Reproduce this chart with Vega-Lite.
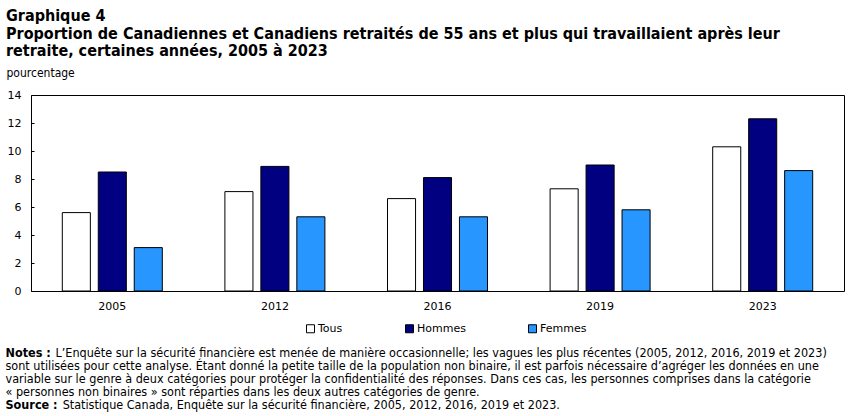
{
  "$schema": "https://vega.github.io/schema/vega-lite/v6.json",
  "padding": {"left": 5, "top": 7, "right": 0, "bottom": 0},
  "background": "white",
  "title": {
    "text": ["Notes :", "\u200b", "\u200b", "\u200b", "Source :"],
    "subtitle": [
      "\u200b\u00a0\u00a0\u00a0\u00a0\u00a0\u00a0\u00a0\u00a0\u00a0\u00a0\u00a0\u00a0\u00a0\u00a0L’Enquête sur la sécurité financière est menée de manière occasionnelle; les vagues les plus récentes (2005, 2012, 2016, 2019 et 2023)",
      "sont utilisées pour cette analyse. Étant donné la petite taille de la population non binaire, il est parfois nécessaire d’agréger les données en une",
      "variable sur le genre à deux catégories pour protéger la confidentialité des réponses. Dans ces cas, les personnes comprises dans la catégorie",
      "« personnes non binaires » sont réparties dans les deux autres catégories de genre.",
      "\u200b\u00a0\u00a0\u00a0\u00a0\u00a0\u00a0\u00a0\u00a0\u00a0\u00a0\u00a0\u00a0\u00a0\u00a0\u00a0\u00a0Statistique Canada, Enquête sur la sécurité financière, 2005, 2012, 2016, 2019 et 2023."
    ],
    "orient": "bottom",
    "anchor": "start",
    "frame": "bounds",
    "font": "DejaVu Sans Condensed",
    "fontSize": 12.5,
    "fontWeight": "bold",
    "lineHeight": 13,
    "color": "black",
    "subtitleFont": "DejaVu Sans Condensed",
    "subtitleFontSize": 12.5,
    "subtitleLineHeight": 13,
    "subtitleColor": "black",
    "subtitlePadding": -65,
    "offset": 12
  },
  "config": {
    "view": {"stroke": "black", "strokeWidth": 1},
    "axis": {
      "labelFont": "DejaVu Sans",
      "labelFontSize": 11,
      "labelColor": "black",
      "grid": false
    },
    "legend": {
      "labelFont": "DejaVu Sans",
      "labelFontSize": 11,
      "labelColor": "black"
    }
  },
  "data": {
    "values": [
      {"annee": "2005", "groupe": "Tous", "valeur": 5.6},
      {"annee": "2005", "groupe": "Hommes", "valeur": 8.5},
      {"annee": "2005", "groupe": "Femmes", "valeur": 3.1},
      {"annee": "2012", "groupe": "Tous", "valeur": 7.1},
      {"annee": "2012", "groupe": "Hommes", "valeur": 8.9},
      {"annee": "2012", "groupe": "Femmes", "valeur": 5.3},
      {"annee": "2016", "groupe": "Tous", "valeur": 6.6},
      {"annee": "2016", "groupe": "Hommes", "valeur": 8.1},
      {"annee": "2016", "groupe": "Femmes", "valeur": 5.3},
      {"annee": "2019", "groupe": "Tous", "valeur": 7.3},
      {"annee": "2019", "groupe": "Hommes", "valeur": 9.0},
      {"annee": "2019", "groupe": "Femmes", "valeur": 5.8},
      {"annee": "2023", "groupe": "Tous", "valeur": 10.3},
      {"annee": "2023", "groupe": "Hommes", "valeur": 12.3},
      {"annee": "2023", "groupe": "Femmes", "valeur": 8.6}
    ]
  },
  "vconcat": [
    {
      "width": 813,
      "height": 196,
      "title": {
        "text": [
          "Graphique 4",
          "Proportion de Canadiennes et Canadiens retraités de 55 ans et plus qui travaillaient après leur",
          "retraite, certaines années, 2005 à 2023"
        ],
        "anchor": "start",
        "frame": "bounds",
        "font": "DejaVu Sans Condensed",
        "fontSize": 16,
        "fontWeight": "bold",
        "lineHeight": 17.5,
        "color": "black",
        "offset": 7
      },
      "mark": {"type": "bar", "stroke": "black", "strokeWidth": 1},
      "encoding": {
        "x": {
          "field": "annee",
          "type": "nominal",
          "scale": {"paddingInner": 0.385, "paddingOuter": 0.1925},
          "axis": {
            "title": null,
            "labelAngle": 0,
            "ticks": false,
            "domain": false,
            "labelPadding": 9
          }
        },
        "xOffset": {
          "field": "groupe",
          "type": "nominal",
          "sort": ["Tous", "Hommes", "Femmes"],
          "scale": {"paddingInner": 0.22, "paddingOuter": 0}
        },
        "y": {
          "field": "valeur",
          "type": "quantitative",
          "scale": {"domain": [0, 14]},
          "axis": {
            "values": [0, 2, 4, 6, 8, 10, 12, 14],
            "domain": false,
            "tickSize": -3,
            "tickColor": "black",
            "labelPadding": 13,
            "title": "pourcentage",
            "titleAngle": 0,
            "titleAlign": "left",
            "titleBaseline": "middle",
            "titleX": -25,
            "titleY": -23,
            "titleFont": "DejaVu Sans Condensed",
            "titleFontSize": 12,
            "titleFontWeight": "normal",
            "titleColor": "black"
          }
        },
        "fill": {
          "field": "groupe",
          "type": "nominal",
          "sort": ["Tous", "Hommes", "Femmes"],
          "scale": {
            "domain": ["Tous", "Hommes", "Femmes"],
            "range": ["#ffffff", "#000080", "#2896ff"]
          },
          "legend": {
            "title": null,
            "orient": "none",
            "direction": "horizontal",
            "legendX": 274,
            "legendY": 228,
            "symbolType": "square",
            "symbolSize": 64,
            "symbolStrokeColor": "black",
            "symbolStrokeWidth": 1,
            "symbolOpacity": 1,
            "columnPadding": 60,
            "labelOffset": 2,
            "padding": 0
          }
        }
      }
    }
  ]
}
